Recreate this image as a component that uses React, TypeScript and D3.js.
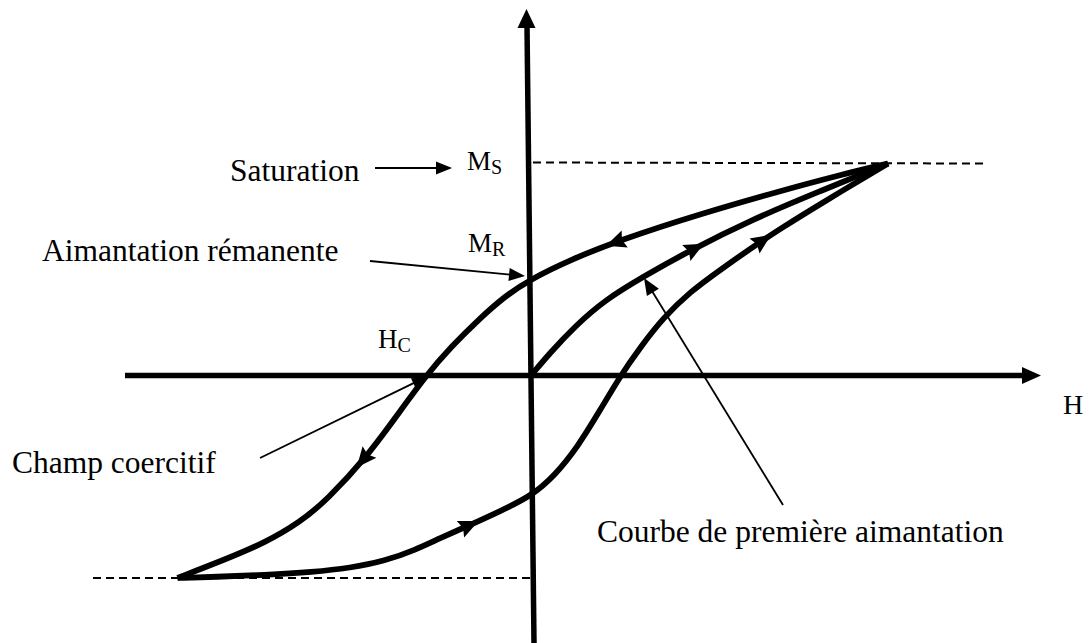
import React, { useEffect, useRef } from 'react';
import * as d3 from 'd3';

const W = 1089;
const HGT = 643;

// Field H (arbitrary units) and magnetisation M (% of Ms).
// Descending branch (stored in increasing H, traversed from +Hs to -Hs)
const descendingH = [-101, -87.4, -76, -66, -58.3, -46.9, -38, -30, -22.6, -15.1, -7.4, 0, 11.1, 25.4, 48.3, 71.1, 88.3, 102];
const descendingM = [-95.5, -86.8, -78.9, -69.2, -58.7, -38.4, -18.2, 0, 13.9, 26.2, 37.5, 45.5, 54.5, 63.9, 76.2, 87, 94.6, 100];
// Ascending branch (traversed from -Hs to +Hs)
const ascendingH = [-101, -90.3, -76, -62.3, -51.7, -41.7, -33.1, -26, -17.4, -8.9, 0, 6.9, 13.4, 19.7, 25.4, 31.1, 37.7, 45.4, 54, 64.6, 71.1, 82.6, 102];
const ascendingM = [-95.5, -95, -94.1, -92.7, -90.8, -87.5, -82.3, -76.7, -70.5, -64, -57, -47, -33.5, -16.5, -0.5, 13, 27.1, 39.4, 49.8, 62, 69.1, 80.9, 100];
// First magnetisation curve
const firstH = [0, 5.4, 12.6, 21.1, 32, 44.6, 63.4, 82.6, 102];
const firstM = [0, 10.6, 23.3, 35.6, 46.5, 58.3, 73.8, 87, 100];

// H positions of the direction arrows on each curve
const descendingArrows = [24, -48];
const ascendingArrows = [-17.5, 66.3];
const firstArrows = [46.9];

// key values
const Ms = 100;
const MsNeg = -95.5;
const Mr = 45.5;
const Hc = -30;
const Hpointer = 32;
const Mpointer = 46.5;

const FONT = '"Liberation Serif", "Times New Roman", serif';

export default function App() {
  const ref = useRef<SVGSVGElement | null>(null);

  useEffect(() => {
    const svg = d3.select(ref.current);
    svg.selectAll('*').remove();

    const x = d3.scaleLinear().domain([-100, 100]).range([181, 881]);
    const y = d3.scaleLinear().domain([-100, 100]).range([587.5, 163.5]);

    const g = svg.append('g');

    // dashed guide lines
    g.append('line')
      .attr('x1', x(0) + 2).attr('x2', 987)
      .attr('y1', y(Ms) - 1).attr('y2', y(Ms))
      .attr('stroke', '#000').attr('stroke-width', 2).attr('stroke-dasharray', '8,5');
    g.append('line')
      .attr('x1', 93).attr('x2', x(0) + 2)
      .attr('y1', y(MsNeg)).attr('y2', y(MsNeg))
      .attr('stroke', '#000').attr('stroke-width', 2).attr('stroke-dasharray', '8,5');

    // axes
    g.append('line')
      .attr('x1', 125).attr('x2', 1024)
      .attr('y1', y(0)).attr('y2', y(0))
      .attr('stroke', '#000').attr('stroke-width', 5.5);
    g.append('path')
      .attr('d', `M1041,${y(0)} L1022,${y(0) - 8.5} L1022,${y(0) + 8.5} Z`)
      .attr('fill', '#000');
    g.append('line')
      .attr('x1', 527).attr('y1', 26)
      .attr('x2', 534).attr('y2', 643)
      .attr('stroke', '#000').attr('stroke-width', 5.5);
    g.append('path')
      .attr('d', `M526.5,9 L517.5,28 L535.5,28 Z`)
      .attr('fill', '#000');

    const line = d3.line<[number, number]>()
      .x((d) => x(d[0]))
      .y((d) => y(d[1]))
      .curve(d3.curveBasis);

    const curves: { hs: number[]; ms: number[]; arrows: number[]; reverse: boolean }[] = [
      { hs: descendingH, ms: descendingM, arrows: descendingArrows, reverse: true },
      { hs: ascendingH, ms: ascendingM, arrows: ascendingArrows, reverse: false },
      { hs: firstH, ms: firstM, arrows: firstArrows, reverse: false },
    ];

    curves.forEach((c) => {
      const pts = c.hs.map((h, i) => [h, c.ms[i]] as [number, number]);
      const p = g.append('path')
        .attr('d', line(pts) as string)
        .attr('fill', 'none')
        .attr('stroke', '#000')
        .attr('stroke-width', 5.8)
        .attr('stroke-linejoin', 'round');
      const node = p.node() as SVGPathElement;
      const total = node.getTotalLength();
      const N = 800;
      const samples: { l: number; x: number; y: number }[] = [];
      for (let i = 0; i <= N; i++) {
        const l = (total * i) / N;
        const pt = node.getPointAtLength(l);
        samples.push({ l, x: pt.x, y: pt.y });
      }
      c.arrows.forEach((ha) => {
        const tx = x(ha);
        let best = samples[0];
        samples.forEach((s) => {
          if (Math.abs(s.x - tx) < Math.abs(best.x - tx)) best = s;
        });
        const a = node.getPointAtLength(Math.max(0, best.l - 3));
        const b = node.getPointAtLength(Math.min(total, best.l + 3));
        let ang = Math.atan2(b.y - a.y, b.x - a.x);
        if (c.reverse) ang += Math.PI;
        const L = 20;
        const hw = 9;
        const tip = { x: best.x + Math.cos(ang) * L * 0.5, y: best.y + Math.sin(ang) * L * 0.5 };
        const bx = tip.x - Math.cos(ang) * L;
        const by = tip.y - Math.sin(ang) * L;
        const px = -Math.sin(ang) * hw;
        const py = Math.cos(ang) * hw;
        g.append('path')
          .attr('d', `M${tip.x},${tip.y} L${bx + px},${by + py} L${bx + Math.cos(ang) * 3},${by + Math.sin(ang) * 3} L${bx - px},${by - py} Z`)
          .attr('fill', '#000');
      });
    });

    // thin annotation arrows
    const pointer = (x1: number, y1: number, x2: number, y2: number, L = 15, hw = 6.5) => {
      const ang = Math.atan2(y2 - y1, x2 - x1);
      const bx = x2 - Math.cos(ang) * L;
      const by = y2 - Math.sin(ang) * L;
      g.append('line')
        .attr('x1', x1).attr('y1', y1).attr('x2', bx + Math.cos(ang) * 2).attr('y2', by + Math.sin(ang) * 2)
        .attr('stroke', '#000').attr('stroke-width', 1.8);
      const px = -Math.sin(ang) * hw;
      const py = Math.cos(ang) * hw;
      g.append('path')
        .attr('d', `M${x2},${y2} L${bx + px},${by + py} L${bx - px},${by - py} Z`)
        .attr('fill', '#000');
    };

    pointer(375, 168, 452, 168, 16, 6.5);
    pointer(370, 261, x(0) - 6, y(Mr) - 3, 16, 6.5);
    pointer(260, 458, x(Hc) - 1, y(0) + 2, 13, 5.5);
    pointer(783, 505, x(Hpointer) + 1, y(Mpointer) + 1, 17, 7);

    // texts
    const txt = (s: string, tx: number, ty: number, size: number) =>
      g.append('text').attr('x', tx).attr('y', ty)
        .attr('font-family', FONT).attr('font-size', size).attr('fill', '#000').text(s);

    txt('Saturation', 230, 181, 31.5);
    txt('Aimantation rémanente', 42, 261, 31.5);
    txt('Champ coercitif', 12, 473, 31.5);
    txt('Courbe de première aimantation', 597, 542, 31.5);
    txt('H', 1063, 414, 28);

    const sub = (main: string, s: string, tx: number, ty: number) => {
      const t = g.append('text').attr('x', tx).attr('y', ty)
        .attr('font-family', FONT).attr('font-size', 27).attr('fill', '#000');
      t.append('tspan').text(main);
      t.append('tspan').attr('font-size', 20).attr('dy', 4).text(s);
    };
    sub('M', 'S', 467, 170);
    sub('M', 'R', 468, 252);
    sub('H', 'C', 378, 348);
  }, []);

  return (
    <svg
      ref={ref}
      width={W}
      height={HGT}
      viewBox={`0 0 ${W} ${HGT}`}
      style={{ position: 'absolute', left: 0, top: 0, background: '#fff', display: 'block' }}
    />
  );
}
